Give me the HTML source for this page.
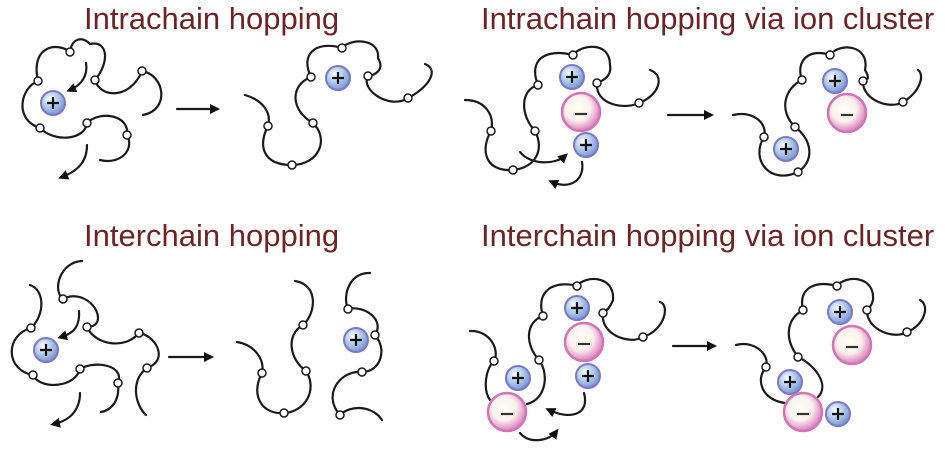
<!DOCTYPE html>
<html><head><style>
html,body{margin:0;padding:0;background:#fff;width:945px;height:452px;overflow:hidden}
svg{display:block}
text.t{font-family:"Liberation Sans",sans-serif;font-size:31px;fill:#6e2424}
.c{fill:none;stroke:#1a1a1a;stroke-width:2.2;stroke-linecap:round}
.b{fill:#fff;stroke:#1a1a1a;stroke-width:1.5}
</style></head><body>
<svg width="945" height="452" viewBox="0 0 945 452">
<defs>
<radialGradient id="gp" cx="0.38" cy="0.35" r="0.7">
<stop offset="0" stop-color="#ffffff"/><stop offset="0.35" stop-color="#c6d8f0"/><stop offset="0.8" stop-color="#86a8dc"/><stop offset="1" stop-color="#7f7fcf"/></radialGradient>
<radialGradient id="gn" cx="0.42" cy="0.4" r="0.65">
<stop offset="0" stop-color="#fffef4"/><stop offset="0.5" stop-color="#fbf1ee"/><stop offset="0.78" stop-color="#e6a6cf"/><stop offset="1" stop-color="#cf6fb0"/></radialGradient>
<marker id="ah" markerWidth="10" markerHeight="10" refX="6" refY="5" orient="auto" markerUnits="userSpaceOnUse"><path d="M0,0 L10,5 L0,10 Z" fill="#111"/></marker>
<symbol id="P" viewBox="-13 -13 26 26" overflow="visible"><circle r="12" fill="url(#gp)" stroke="#7a78c8" stroke-width="2"/><path d="M-6,0H6M0,-6V6" stroke="#111" stroke-width="2.2"/></symbol>
<symbol id="N" viewBox="-21 -21 42 42" overflow="visible"><circle r="19" fill="url(#gn)" stroke="#d374b4" stroke-width="2.5"/><path d="M-6,2H6" stroke="#333" stroke-width="2.2"/></symbol>
</defs>

<text class="t" x="84" y="29">Intrachain hopping</text>
<text class="t" x="481" y="29">Intrachain hopping via ion cluster</text>
<text class="t" x="84" y="246">Interchain hopping</text>
<text class="t" x="481" y="246">Interchain hopping via ion cluster</text>

<!-- Panel 1 -->
<path class="c" d="M95,80 C110,62 108,40 90,44 C82,36 72,38 70,52 C58,42 30,45 38,81 C20,88 14,120 40,128 C55,143 85,140 87,123 C100,110 130,115 127,135 C135,150 120,165 100,160"/>
<path class="c" d="M95,80 C100,98 130,100 142,71 C165,75 170,110 143,115"/>
<path class="c" d="M86,63 C88,75 82,85 70,90" marker-end="url(#ah)"/>
<path class="c" d="M87,145 C87,160 80,170 62,177" marker-end="url(#ah)"/>
<g class="b"><circle cx="70" cy="52" r="4"/><circle cx="38" cy="81" r="4"/><circle cx="95" cy="80" r="4"/><circle cx="142" cy="71" r="4"/><circle cx="40" cy="128" r="4"/><circle cx="87" cy="123" r="4"/><circle cx="127" cy="135" r="4"/></g>
<use href="#P" x="40" y="90" width="26" height="26"/>
<path class="c" d="M177,109 H216" marker-end="url(#ah)"/>

<!-- Panel 2 -->
<path class="c" d="M245,95 C262,100 272,112 268,126 C258,145 262,165 292,165 C318,165 330,140 313,123 C290,110 290,85 311,77 C300,55 315,40 342,48 C350,38 380,38 378,58 C385,70 375,75 368,76 C360,90 390,110 408,98 C428,88 440,70 425,64"/>
<g class="b"><circle cx="342" cy="48" r="4"/><circle cx="311" cy="77" r="4"/><circle cx="368" cy="76" r="4"/><circle cx="408" cy="98" r="4"/><circle cx="313" cy="123" r="4"/><circle cx="268" cy="126" r="4"/><circle cx="292" cy="165" r="4"/></g>
<use href="#P" x="325" y="65" width="26" height="26"/>

<!-- Panel 3 -->
<path class="c" d="M465,100 C485,100 495,115 491,131 C480,150 485,172 513,170 C535,168 545,150 535,131 C520,115 520,90 538,85 C528,60 545,48 573,55 C580,45 610,40 610,65 C612,75 605,80 597,83 C595,105 625,110 639,103 C660,95 665,75 650,70"/>
<path class="c" d="M520,152 C530,165 555,165 565,156" marker-end="url(#ah)"/>
<path class="c" d="M582,162 C585,180 570,190 552,182" marker-end="url(#ah)"/>
<g class="b"><circle cx="573" cy="55" r="4"/><circle cx="538" cy="85" r="4"/><circle cx="597" cy="83" r="4"/><circle cx="639" cy="103" r="4"/><circle cx="491" cy="131" r="4"/><circle cx="535" cy="131" r="4"/><circle cx="513" cy="170" r="4"/></g>
<use href="#N" x="560" y="91" width="42" height="42"/>
<use href="#P" x="559" y="64" width="26" height="26"/>
<use href="#P" x="573" y="132" width="26" height="26"/>
<path class="c" d="M668,115 H710" marker-end="url(#ah)"/>

<!-- Panel 4 -->
<path class="c" d="M733,115 C755,110 768,125 764,137 C750,160 770,185 798,172 C815,160 812,140 795,127 C778,110 785,88 802,80 C795,60 810,48 830,55 C840,42 870,45 865,70 C870,78 868,80 863,81 C862,100 890,110 903,102 C920,92 925,75 918,70"/>
<g class="b"><circle cx="830" cy="55" r="4"/><circle cx="802" cy="80" r="4"/><circle cx="863" cy="81" r="4"/><circle cx="903" cy="102" r="4"/><circle cx="795" cy="127" r="4"/><circle cx="764" cy="137" r="4"/><circle cx="798" cy="172" r="4"/></g>
<use href="#P" x="822" y="68" width="26" height="26"/>
<use href="#N" x="826" y="92" width="42" height="42"/>
<use href="#P" x="773" y="136" width="26" height="26"/>

<!-- Panel 5 -->
<path class="c" d="M82,261 C60,262 52,290 63,299 C80,290 98,305 98,318 C98,325 92,327 87,327 C95,345 125,350 139,333 C155,335 170,360 147,368 C130,380 135,405 146,415"/>
<path class="c" d="M30,285 C45,290 45,315 31,328 C5,335 5,370 33,375 C40,390 75,388 80,369 C95,360 125,365 118,383 C120,400 112,410 101,412"/>
<path class="c" d="M79,311 C80,325 75,333 61,337" marker-end="url(#ah)"/>
<path class="c" d="M80,393 C80,408 72,420 54,424" marker-end="url(#ah)"/>
<g class="b"><circle cx="63" cy="299" r="4"/><circle cx="31" cy="328" r="4"/><circle cx="87" cy="327" r="4"/><circle cx="139" cy="333" r="4"/><circle cx="33" cy="375" r="4"/><circle cx="80" cy="369" r="4"/><circle cx="118" cy="383" r="4"/><circle cx="147" cy="368" r="4"/></g>
<use href="#P" x="33" y="337" width="26" height="26"/>
<path class="c" d="M169,357 H210" marker-end="url(#ah)"/>

<!-- Panel 6 -->
<path class="c" d="M237,342 C255,345 265,360 262,373 C250,395 262,415 284,413 C305,412 318,390 306,371 C290,360 285,335 303,325 C315,315 320,285 295,281"/>
<path class="c" d="M370,273 C350,272 342,295 348,309 C365,305 385,320 375,335 C388,350 380,372 362,372 C340,370 322,395 340,415"/>
<path class="c" d="M340,415 C350,405 372,405 382,420"/>
<g class="b"><circle cx="303" cy="325" r="4"/><circle cx="306" cy="371" r="4"/><circle cx="262" cy="373" r="4"/><circle cx="284" cy="413" r="4"/><circle cx="348" cy="309" r="4"/><circle cx="375" cy="335" r="4"/><circle cx="362" cy="372" r="4"/><circle cx="340" cy="415" r="4"/></g>
<use href="#P" x="343" y="327" width="26" height="26"/>

<!-- Panel 7 -->
<path class="c" d="M470,331 C490,330 500,350 494,361 C485,370 483,390 490,400"/>
<path class="c" d="M527,404 C545,400 550,375 539,360 C525,345 525,322 543,316 C535,290 555,280 577,286 C585,275 615,275 613,300 C610,308 605,312 603,313 C600,335 630,345 643,337 C665,330 670,305 660,302"/>
<path class="c" d="M584,393 C590,415 570,420 549,410" marker-end="url(#ah)"/>
<path class="c" d="M520,433 C530,445 550,440 556,432" marker-end="url(#ah)"/>
<g class="b"><circle cx="577" cy="286" r="4"/><circle cx="543" cy="316" r="4"/><circle cx="603" cy="313" r="4"/><circle cx="643" cy="337" r="4"/><circle cx="494" cy="361" r="4"/><circle cx="539" cy="360" r="4"/></g>
<use href="#P" x="564" y="295" width="26" height="26"/>
<use href="#N" x="563" y="321" width="42" height="42"/>
<use href="#P" x="575" y="363" width="26" height="26"/>
<use href="#P" x="505" y="365" width="26" height="26"/>
<use href="#N" x="486" y="391" width="42" height="42"/>
<path class="c" d="M673,346 H713" marker-end="url(#ah)"/>

<!-- Panel 8 -->
<path class="c" d="M736,345 C755,340 770,355 766,367 C755,380 762,400 785,403"/>
<path class="c" d="M818,397 C830,385 815,365 798,357 C785,340 785,320 803,310 C798,288 815,280 837,286 C845,275 875,275 873,300 C872,305 868,310 867,310 C866,330 895,340 907,332 C925,325 930,305 920,300"/>
<g class="b"><circle cx="837" cy="286" r="4"/><circle cx="803" cy="310" r="4"/><circle cx="867" cy="310" r="4"/><circle cx="907" cy="332" r="4"/><circle cx="798" cy="357" r="4"/><circle cx="766" cy="367" r="4"/></g>
<use href="#P" x="827" y="299" width="26" height="26"/>
<use href="#N" x="831" y="324" width="42" height="42"/>
<use href="#P" x="777" y="369" width="26" height="26"/>
<use href="#N" x="782" y="391" width="42" height="42"/>
<use href="#P" x="825" y="401" width="26" height="26"/>
</svg>
</body></html>
